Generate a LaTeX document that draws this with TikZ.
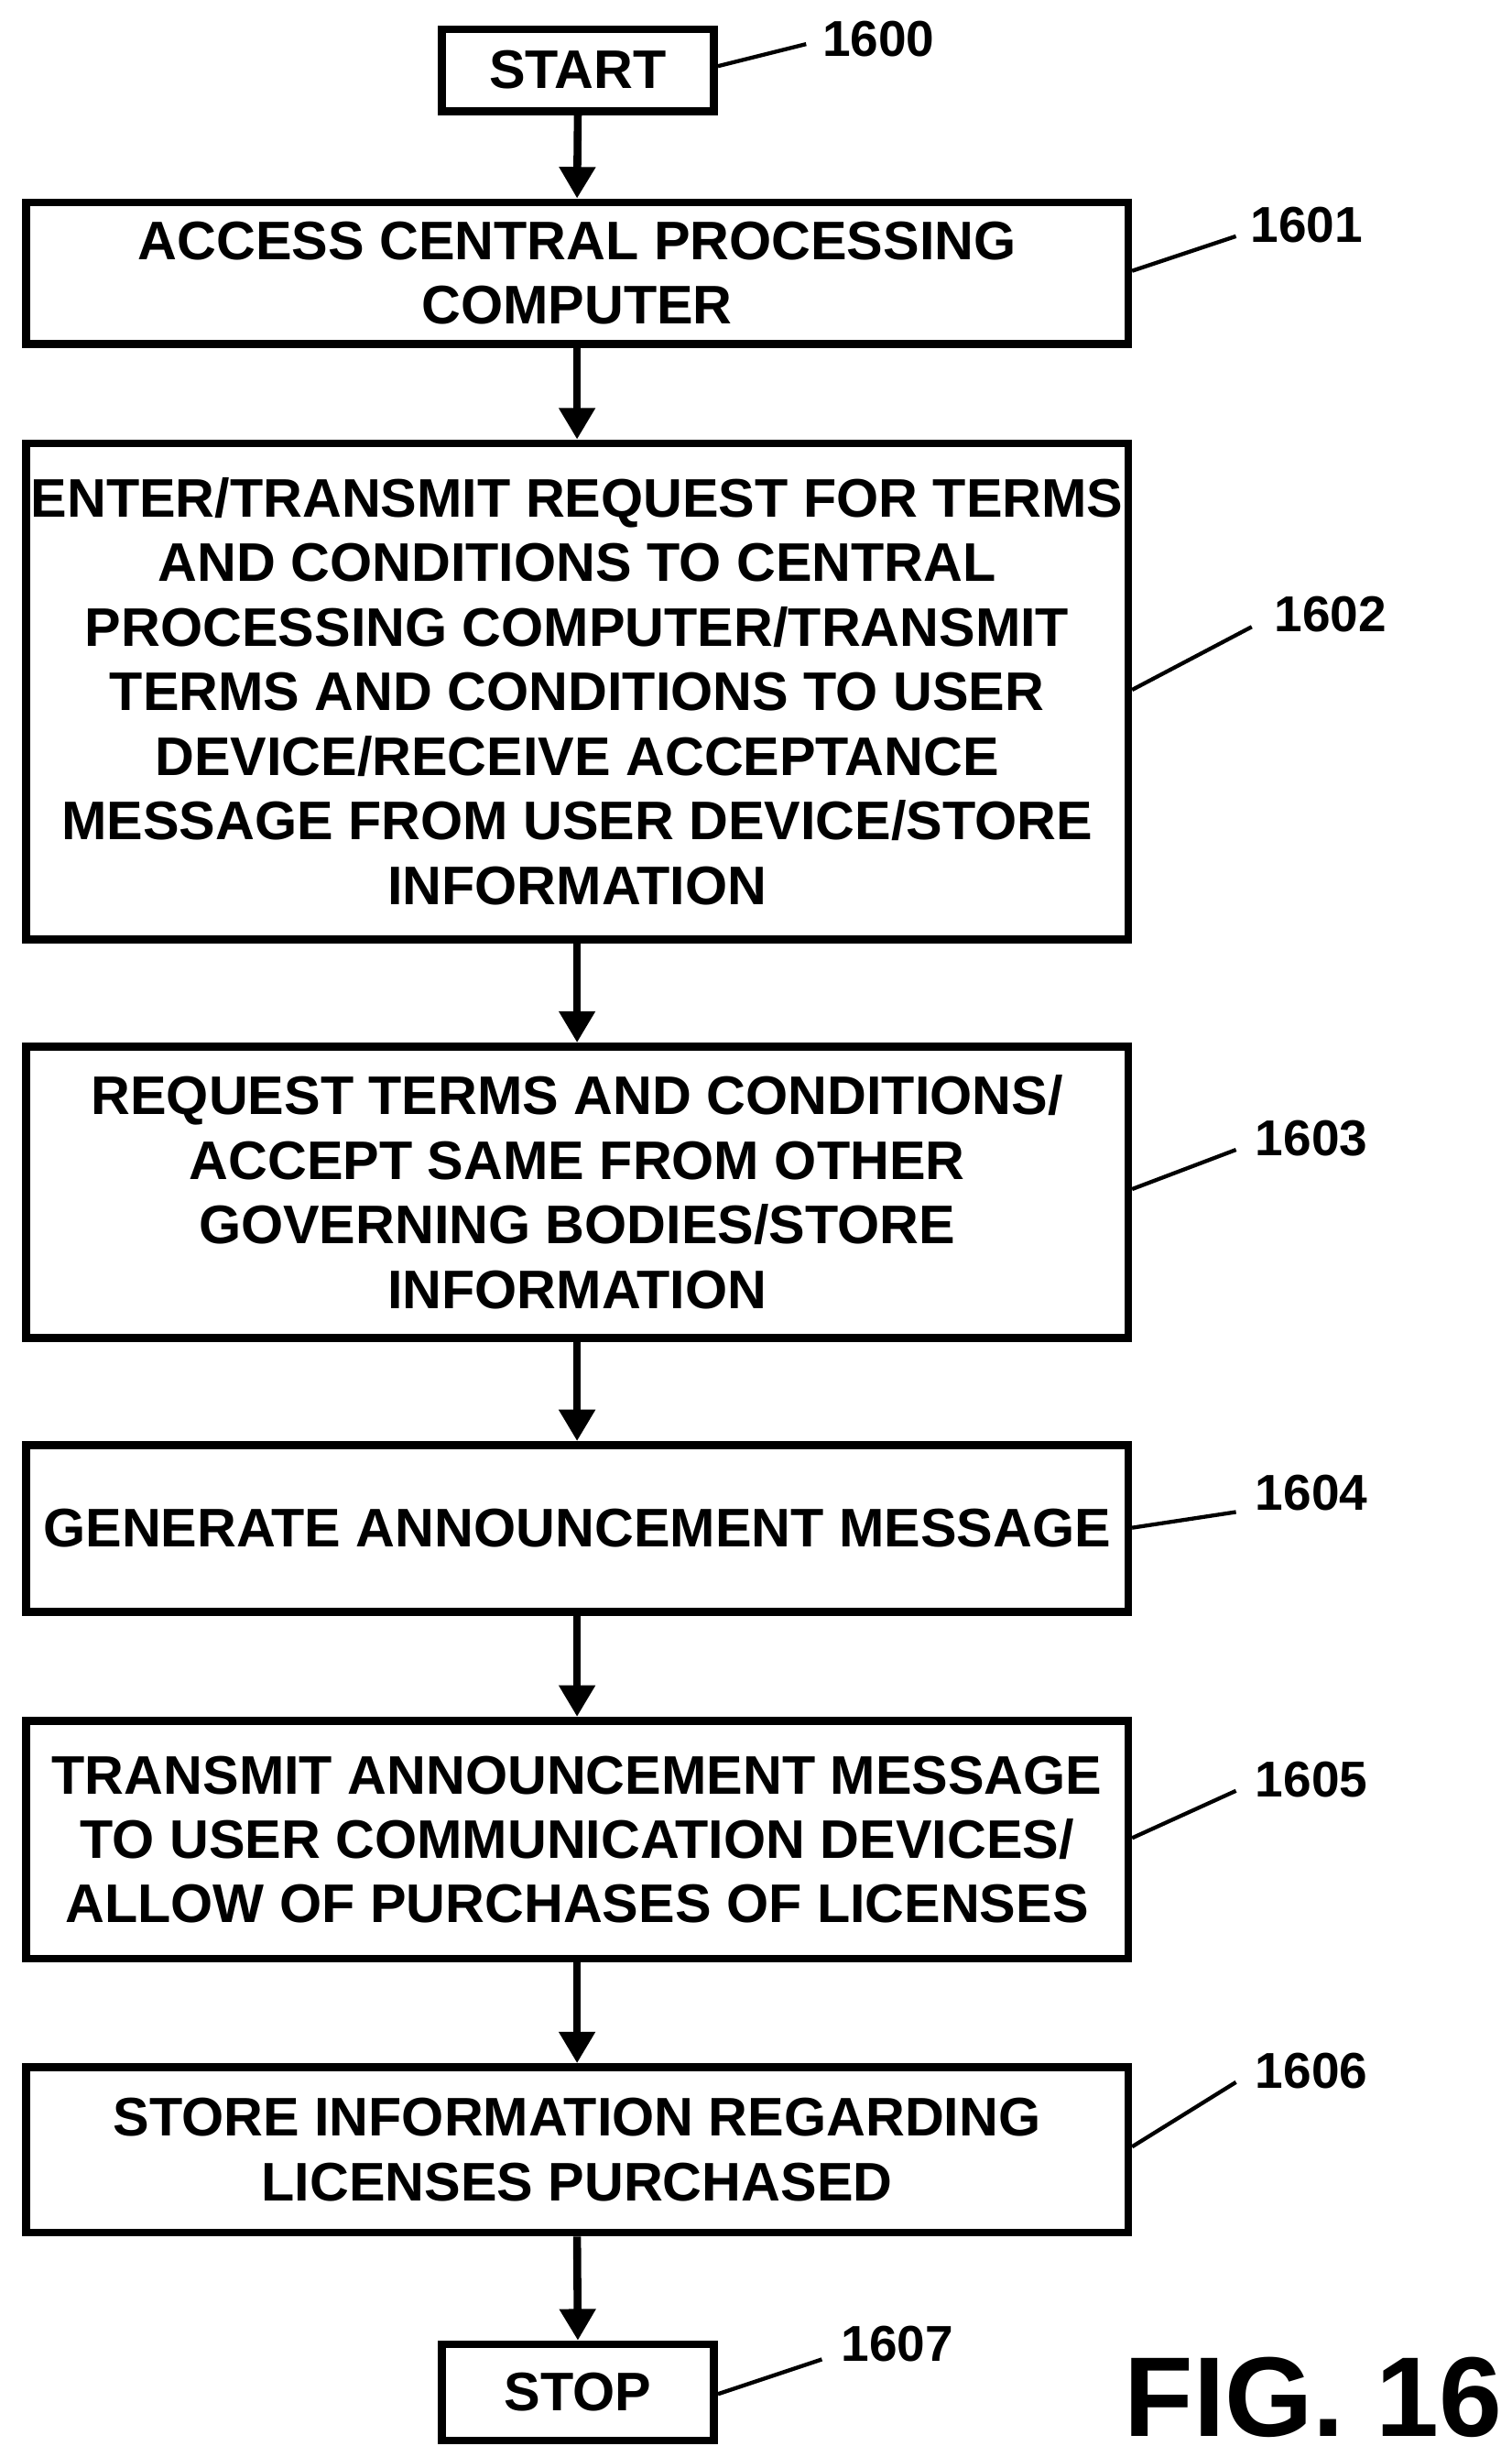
\documentclass[tikz,border=0pt]{standalone}
\usepackage{fontspec}
\setmainfont{Liberation Sans}
\usetikzlibrary{arrows.meta}
\begin{document}
\begin{tikzpicture}[x=1pt,y=-1pt,
 box/.style={draw,line width=5pt,align=center,font=\fontsize{34.5}{41}\selectfont\bfseries,inner sep=0pt},
 arr/.style={line width=5pt,-{Triangle[length=20pt,width=22pt]}},
 lead/.style={line width=2.5pt},
 lab/.style={font=\fontsize{32}{36}\selectfont\bfseries}]
\useasboundingbox (0,0) rectangle (960,1560);
\def\bx#1#2#3#4{\node[box,minimum width=700pt,minimum height=#3pt-#2pt-5pt] (#1) at (366.5,{(#2+#3)/2}) {#4};}
\node[box,minimum width=173pt,minimum height=52pt] (s) at (367,44.5) {START};
\bx{b1}{126}{221}{ACCESS CENTRAL PROCESSING\\COMPUTER}
\bx{b2}{279}{599}{ENTER/TRANSMIT REQUEST FOR TERMS\\AND CONDITIONS TO CENTRAL\\PROCESSING COMPUTER/TRANSMIT\\TERMS AND CONDITIONS TO USER\\DEVICE/RECEIVE ACCEPTANCE\\MESSAGE FROM USER DEVICE/STORE\\INFORMATION}
\bx{b3}{662}{852}{REQUEST TERMS AND CONDITIONS/\\ACCEPT SAME FROM OTHER\\GOVERNING BODIES/STORE\\INFORMATION}
\bx{b4}{915}{1026}{GENERATE ANNOUNCEMENT MESSAGE}
\bx{b5}{1090}{1246}{TRANSMIT ANNOUNCEMENT MESSAGE\\TO USER COMMUNICATION DEVICES/\\ALLOW OF PURCHASES OF LICENSES}
\bx{b6}{1310}{1420}{STORE INFORMATION REGARDING\\LICENSES PURCHASED}
\node[box,minimum width=173pt,minimum height=61pt] (e) at (367,1519) {STOP};
\foreach \a/\b in {s/b1,b1/b2,b2/b3,b3/b4,b4/b5,b5/b6,b6/e} \draw[arr] (\a.south) -- (\b.north);
\node[lab] (l0) at (558,25) {1600}; \draw[lead] (456,42) -- (512,28);
\node[lab] (l1) at (830,143) {1601}; \draw[lead] (719,172) -- (785,150);
\node[lab] (l2) at (845,390) {1602}; \draw[lead] (719,438) -- (795,398);
\node[lab] (l3) at (833,723) {1603}; \draw[lead] (719,755) -- (785,730);
\node[lab] (l4) at (833,948) {1604}; \draw[lead] (719,970) -- (785,960);
\node[lab] (l5) at (833,1130) {1605}; \draw[lead] (719,1167) -- (785,1137);
\node[lab] (l6) at (833,1315) {1606}; \draw[lead] (719,1363) -- (785,1322);
\node[lab] (l7) at (570,1488) {1607}; \draw[lead] (456,1520) -- (522,1498);
\node[font=\fontsize{72}{72}\selectfont\bfseries] (fig) at (834,1522) {FIG. 16};
\end{tikzpicture}
\end{document}
